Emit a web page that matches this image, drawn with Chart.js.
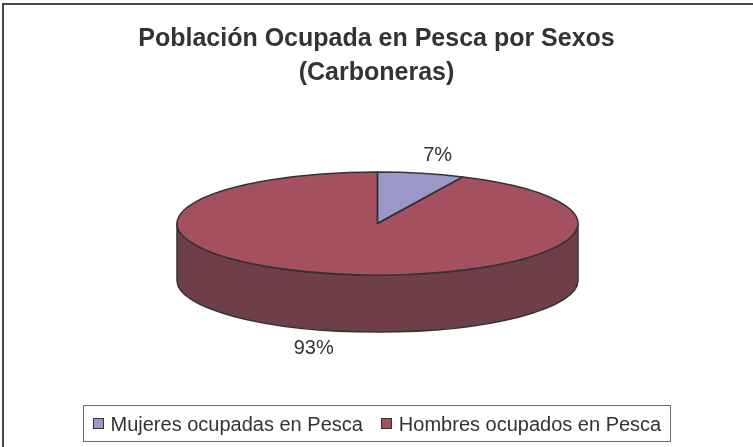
<!DOCTYPE html>
<html>
<head>
<meta charset="utf-8">
<script src="https://cdn.jsdelivr.net/npm/chart.js@4/dist/chart.umd.min.js"></script>
<style>
  html, body { margin: 0; padding: 0; background: #fff; }
  #c { display: block; }
</style>
</head>
<body>
<canvas id="c" width="753" height="447"></canvas>
<script>
// Chart content
const titleLines = ['Población Ocupada en Pesca por Sexos', '(Carboneras)'];
const categories = ['Mujeres ocupadas en Pesca', 'Hombres ocupados en Pesca'];
const shares = [7, 93];
const valueLabels = ['7%', '93%'];

// Styling
const topColors = ['#9C97C9', '#A5505F'];
const sideColors = ['#5E5A86', '#6E3F49'];
const outline = '#333333';
const textColor = '#333333';
const FONT = '"Liberation Sans", Arial, Helvetica, sans-serif';
const TILT = 51.5 / 200.5;   // vertical squash of the pie disc
const DEPTH = 57;            // thickness of the disc in px

// parts of [a, b] that lie on the front (lower) half of the disc
function frontSpans(a, b) {
  const spans = [];
  for (let k = -1; k <= 1; k++) {
    const lo = Math.max(a, 2 * Math.PI * k);
    const hi = Math.min(b, 2 * Math.PI * k + Math.PI);
    if (hi > lo) spans.push([lo, hi]);
  }
  return spans;
}

const pie3d = {
  id: 'pie3d',
  beforeDatasetsDraw(chart) {
    const ctx = chart.ctx;
    const arcs = chart.getDatasetMeta(0).data;
    const cx = arcs[0].x, cy = arcs[0].y, rx = arcs[0].outerRadius, ry = rx * TILT;
    const bg = chart.data.datasets[0].sideColor;
    // rim of the disc
    arcs.forEach((arc, i) => {
      frontSpans(arc.startAngle, arc.endAngle).forEach(([a, b]) => {
        ctx.save();
        ctx.beginPath();
        ctx.ellipse(cx, cy, rx, ry, 0, a, b, false);
        ctx.ellipse(cx, cy + DEPTH, rx, ry, 0, b, a, true);
        ctx.closePath();
        ctx.fillStyle = bg[i];
        ctx.fill();
        ctx.lineWidth = 1.5;
        ctx.lineJoin = 'round';
        ctx.strokeStyle = outline;
        ctx.stroke();
        ctx.restore();
      });
    });
    // squash the library-drawn slices into the top face
    ctx.save();
    ctx.translate(cx, cy);
    ctx.scale(1, TILT);
    ctx.translate(-cx, -cy);
  },
  afterDatasetsDraw(chart) {
    const ctx = chart.ctx;
    ctx.restore();
    const arcs = chart.getDatasetMeta(0).data;
    const cx = arcs[0].x, cy = arcs[0].y, rx = arcs[0].outerRadius, ry = rx * TILT;
    ctx.save();
    ctx.lineWidth = 1.5;
    ctx.lineJoin = 'round';
    ctx.strokeStyle = outline;
    arcs.forEach(arc => {
      ctx.beginPath();
      ctx.moveTo(cx, cy);
      ctx.ellipse(cx, cy, rx, ry, 0, arc.startAngle, arc.endAngle, false);
      ctx.closePath();
      ctx.stroke();
    });
    // percentage labels outside the disc
    ctx.font = '20px ' + FONT;
    ctx.fillStyle = textColor;
    ctx.textBaseline = 'alphabetic';
    arcs.forEach((arc, i) => {
      const m = (arc.startAngle + arc.endAngle) / 2;
      const c = Math.cos(m), s = Math.sin(m);
      const px = cx + rx * c;
      const py = cy + ry * s + (s > 0 ? DEPTH : 0);
      ctx.textAlign = c >= 0 ? 'left' : 'right';
      const x = c >= 0 ? px + 2 : px;
      const y = s < 0 ? py - 12 : py + 23;
      ctx.fillText(valueLabels[i], x, y);
    });
    ctx.restore();
  }
};

const decorations = {
  id: 'decorations',
  afterDraw(chart) {
    const ctx = chart.ctx;
    ctx.save();
    // outer frame
    ctx.strokeStyle = '#474747';
    ctx.lineWidth = 2;
    ctx.strokeRect(3, 4, 800, 500);

    // title
    ctx.fillStyle = textColor;
    ctx.textAlign = 'center';
    ctx.textBaseline = 'alphabetic';
    ctx.font = 'bold 25px ' + FONT;
    ctx.fillText(titleLines[0], 376.5, 46);
    ctx.fillText(titleLines[1], 376.5, 80);

    // legend
    const ds = chart.data.datasets[0];
    ctx.font = '20px ' + FONT;
    const box = 11, gapBox = 7, gapItem = 18, pad = 9;
    const widths = chart.data.labels.map(t => ctx.measureText(t).width);
    let total = 0;
    widths.forEach((w, i) => { total += box + gapBox + w + (i ? gapItem : 0); });
    const lw = total + 2 * pad;
    const lx = Math.round(376 - lw / 2) + 0.5;
    const ly = 405.5, lh = 36;
    ctx.strokeStyle = '#6b6b6b';
    ctx.lineWidth = 1;
    ctx.strokeRect(lx, ly, Math.round(lw), lh);
    let x = lx + pad;
    const midY = ly + lh / 2;
    ctx.textAlign = 'left';
    chart.data.labels.forEach((t, i) => {
      ctx.fillStyle = ds.backgroundColor[i];
      ctx.fillRect(Math.round(x), Math.round(midY - box / 2), box, box);
      ctx.strokeStyle = outline;
      ctx.strokeRect(Math.round(x) + 0.5, Math.round(midY - box / 2) + 0.5, box - 1, box - 1);
      x += box + gapBox;
      ctx.fillStyle = textColor;
      ctx.fillText(t, x, midY + 7);
      x += widths[i] + gapItem;
    });
    ctx.restore();
  }
};

new Chart(document.getElementById('c'), {
  type: 'pie',
  data: {
    labels: categories,
    datasets: [{
      data: shares,
      backgroundColor: topColors,
      sideColor: sideColors,
      borderWidth: 0,
      hoverBorderWidth: 0,
      hoverOffset: 0,
      clip: false
    }]
  },
  options: {
    responsive: false,
    animation: false,
    events: [],
    layout: { padding: { left: 177, right: 175, top: 23, bottom: 23 } },
    plugins: {
      legend: { display: false },
      title: { display: false },
      tooltip: { enabled: false }
    }
  },
  plugins: [pie3d, decorations]
});
</script>
</body>
</html>
